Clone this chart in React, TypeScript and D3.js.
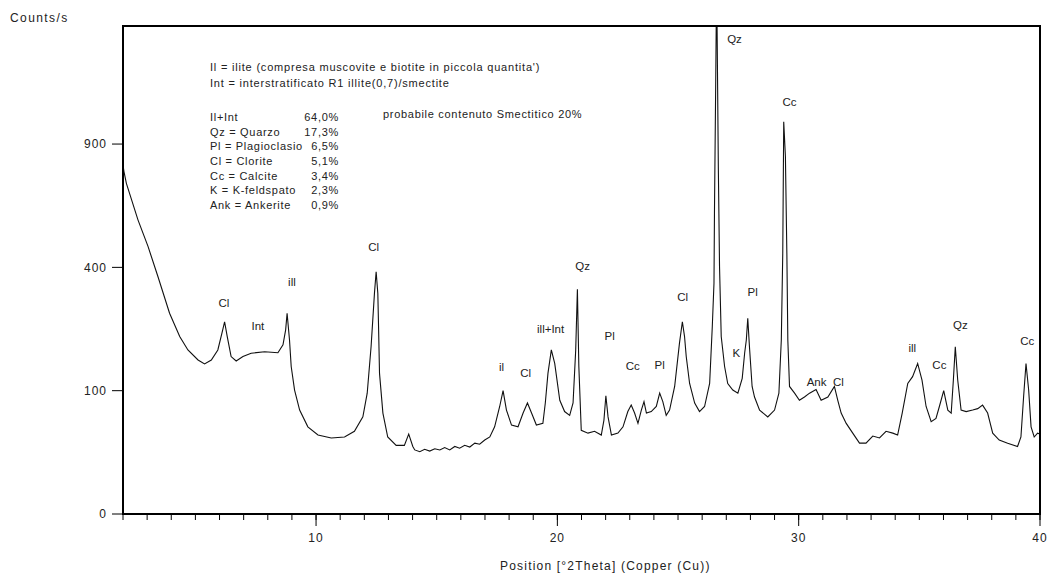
import React from "react";
import * as d3 from "d3";

// ---- data: XRD pattern (2θ, counts/s) ----
const theta: number[] = [
  2.0, 2.04, 2.14, 2.62, 3.04, 3.45, 3.93, 4.35, 4.69, 5.11, 5.38, 5.66, 5.93, 6.10, 6.21, 6.32, 6.48, 6.69, 6.97, 7.31,
  7.87, 8.42, 8.63, 8.74, 8.80, 8.90, 8.97, 9.11, 9.32, 9.66, 10.08, 10.63, 11.18, 11.59, 11.94, 12.12, 12.28, 12.42, 12.49, 12.56,
  12.59, 12.63, 12.77, 12.97, 13.32, 13.66, 13.84, 14.01, 14.09, 14.30, 14.50, 14.71, 14.92, 15.13, 15.33, 15.54, 15.75, 15.95, 16.16, 16.37,
  16.58, 16.78, 16.99, 17.20, 17.40, 17.61,
  17.75, 17.89, 18.10, 18.37, 18.58, 18.76, 18.93, 19.13, 19.40, 19.50, 19.61, 19.75, 19.89, 20.10, 20.30, 20.51, 20.65, 20.76, 20.83, 20.89,
  20.99, 21.27, 21.54, 21.82, 21.93, 22.01, 22.10, 22.24, 22.51, 22.72, 22.92, 23.06, 23.20, 23.34, 23.48, 23.59, 23.69, 23.89, 24.10, 24.24,
  24.37, 24.51, 24.65, 24.86, 25.06, 25.18, 25.27, 25.34, 25.48, 25.69, 25.89, 26.10, 26.31, 26.42, 26.49, 26.51, 26.56, 26.60, 26.67, 26.72,
  26.79, 26.93, 27.06, 27.27, 27.48, 27.66, 27.76, 27.83, 27.89, 27.96, 28.07, 28.17, 28.38, 28.72, 29.00, 29.18, 29.28, 29.34, 29.38, 29.45,
  29.51, 29.55, 29.62, 29.83, 30.03, 30.24, 30.45, 30.72, 30.93, 31.21, 31.48, 31.62, 31.76, 31.97, 32.24, 32.52, 32.79, 33.07, 33.35, 33.62,
  33.90, 34.10, 34.29, 34.52, 34.72, 34.93, 35.11, 35.28, 35.49, 35.69, 35.83, 36.01, 36.18, 36.32, 36.41, 36.49, 36.59, 36.73, 36.94, 37.21,
  37.42, 37.62, 37.83, 38.04, 38.31, 38.66, 39.07, 39.21, 39.32, 39.42, 39.53, 39.63, 39.76, 39.90, 40.0,
];
const counts: number[] = [
  800, 771, 719, 569, 470, 370, 265, 207, 177, 156, 148, 156, 177, 215, 243, 207, 163, 154, 163, 170,
  173, 171, 188, 223, 265, 199, 143, 101, 71, 50, 41, 38, 39, 45, 62, 96, 184, 320, 386, 320,
  231, 130, 67, 39, 31, 31, 42, 30, 27, 25.5, 27.5, 26, 28, 27, 29, 27, 30, 28.5, 31, 29.5,
  33, 32, 36, 39, 50, 76,
  100, 71, 52, 50, 67, 81, 67, 52, 54, 81, 130, 177, 149, 85, 69, 64, 81, 177, 332, 143,
  46, 43, 45, 41, 58, 92, 62, 41, 43, 50, 69, 78, 67, 54, 71, 83, 67, 69, 76, 96,
  83, 64, 71, 107, 192, 243, 207, 163, 112, 81, 69, 76, 112, 231, 350, 595, 1201, 1900, 793, 402,
  207, 143, 112, 101, 96, 121, 170, 199, 252, 184, 107, 90, 71, 62, 71, 96, 199, 447, 1012, 840,
  447, 199, 107, 96, 85, 90, 96, 102, 85, 90, 107, 85, 67, 54, 43, 33, 33, 40, 38, 45,
  43, 41, 67, 112, 124, 149, 118, 76, 56, 60, 76, 100, 71, 67, 118, 184, 118, 71, 69, 71,
  73, 78, 67, 43, 36, 33, 30, 39, 90, 149, 101, 50, 39, 43, 42,
];

// peak labels (text, 2θ, counts/s at label centre)
const peakText: string[] = ["Cl", "Int", "ill", "Cl", "il", "Cl", "ill+Int", "Qz", "Pl", "Cc", "Pl", "Cl", "Qz", "K", "Pl", "Cc", "Ank", "Cl", "ill", "Cc", "Qz", "Cc"];
const peakTheta: number[] = [6.18, 7.59, 9.0, 12.39, 17.69, 18.69, 19.72, 21.05, 22.17, 23.12, 24.24, 25.19, 27.34, 27.42, 28.09, 29.62, 30.74, 31.65, 34.71, 35.83, 36.7, 39.47];
const peakCount: number[] = [293, 232, 354, 469, 142, 131, 225, 405, 208, 144, 146, 310, 1484, 170, 324, 1117, 115, 115, 181, 146, 235, 197];

const yTicks: number[] = [0, 100, 400, 900];
const xMajor: number[] = [10, 20, 30, 40];
const xMinor: number[] = d3.range(2, 41, 1);

const legendTop: string[] = [
  "Il = ilite  (compresa muscovite e biotite in piccola quantita')",
  "Int = interstratificato R1 illite(0,7)/smectite",
];
const phaseNames: string[] = ["Il+Int", "Qz = Quarzo", "Pl = Plagioclasio", "Cl = Clorite", "Cc = Calcite", "K  = K-feldspato", "Ank = Ankerite"];
const phasePct: string[] = ["64,0%", "17,3%", "6,5%", "5,1%", "3,4%", "2,3%", "0,9%"];
const noteText = "probabile contenuto Smectitico 20%";

const W = 1047;
const H = 577;
const L = 123, R = 1040, T = 26, B = 514;
const FONT = "'Liberation Sans', Arial, sans-serif";

export default function App() {
  const x = d3.scaleLinear().domain([2, 40]).range([L, R]);
  const y = d3.scaleSqrt().domain([0, 1566]).range([B, T]);
  const pts: [number, number][] = theta.map((t, i) => [t, counts[i]]);
  const line = d3
    .line<[number, number]>()
    .x((d) => x(d[0]))
    .y((d) => y(d[1]))
    .curve(d3.curveLinear);

  const txt = { fontFamily: FONT, fontSize: 11, fill: "#222" } as const;
  const legendTxt = { ...txt, letterSpacing: 0.7 } as const;
  const axisTxt = { ...txt, fontSize: 12, letterSpacing: 1.2 } as const;

  return (
    <svg width={W} height={H} style={{ position: "absolute", left: 0, top: 0, background: "#fff" }}>
      <defs>
        <clipPath id="plot">
          <rect x={L} y={T} width={R - L} height={B - T} />
        </clipPath>
      </defs>
      <rect x={0} y={0} width={W} height={H} fill="#fff" />

      {/* trace */}
      <path d={line(pts) || ""} fill="none" stroke="#111" strokeWidth={1.1} clipPath="url(#plot)" />

      {/* frame */}
      <path d={`M${L},${B} L${L},${T} L${R},${T} L${R},${B}`} fill="none" stroke="#000" strokeWidth={2} />
      <line x1={L - 1} x2={R + 1} y1={B} y2={B} stroke="#000" strokeWidth={2} />

      {/* y axis */}
      {yTicks.map((v) => (
        <g key={"y" + v}>
          <line x1={L - 11} x2={L} y1={y(v)} y2={y(v)} stroke="#000" strokeWidth={1} />
          <text x={L - 16} y={y(v)} dy="0.35em" textAnchor="end" {...axisTxt} letterSpacing={1}>
            {v}
          </text>
        </g>
      ))}
      <text x={10} y={22} {...axisTxt} letterSpacing={1.4}>Counts/s</text>

      {/* x axis */}
      {xMinor.map((v) => (
        <line key={"m" + v} x1={x(v)} x2={x(v)} y1={B} y2={B + 6} stroke="#000" strokeWidth={1} />
      ))}
      {xMajor.map((v) => (
        <g key={"x" + v}>
          <line x1={x(v)} x2={x(v)} y1={B} y2={B + 12} stroke="#000" strokeWidth={1} />
          <text x={x(v)} y={538} dy="0.35em" textAnchor="middle" {...axisTxt} letterSpacing={1}>
            {v}
          </text>
        </g>
      ))}
      <text x={500} y={566} dy="0.35em" {...axisTxt}>
        Position [°2Theta] (Copper (Cu))
      </text>

      {/* legend text */}
      {legendTop.map((s, i) => (
        <text key={"lt" + i} x={210} y={67 + i * 16} dy="0.35em" {...legendTxt} letterSpacing={0.8}>
          {s}
        </text>
      ))}
      {phaseNames.map((s, i) => (
        <g key={"ph" + i}>
          <text x={210} y={117 + i * 14.7} dy="0.35em" {...legendTxt}>{s}</text>
          <text x={339} y={117 + i * 14.7} dy="0.35em" textAnchor="end" {...legendTxt}>{phasePct[i]}</text>
        </g>
      ))}
      <text x={383} y={114} dy="0.35em" {...legendTxt}>{noteText}</text>

      {/* peak labels */}
      {peakText.map((s, i) => (
        <text key={"pk" + i} x={x(peakTheta[i])} y={y(peakCount[i])} dy="0.35em" textAnchor="middle" {...txt} fontSize={11.5}>
          {s}
        </text>
      ))}
    </svg>
  );
}
